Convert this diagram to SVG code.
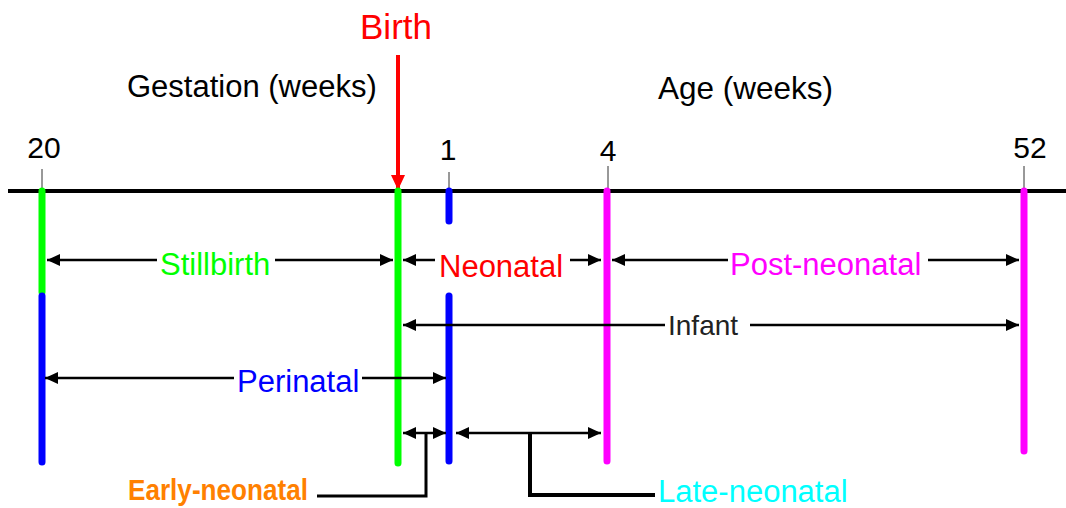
<svg xmlns="http://www.w3.org/2000/svg" width="1066" height="508" viewBox="0 0 1066 508">
<style>
text{font-family:"Liberation Sans",Arial,sans-serif;}
.lbl{font-size:31px;}
.num{font-size:30px;fill:#000;text-anchor:middle;}
.bar{stroke-width:7;stroke-linecap:round;fill:none;}
.tick{stroke:#333;stroke-width:1;}
.dim{stroke:#000;stroke-width:2.5;fill:none;}
.lead{stroke:#000;fill:none;}
</style>
<defs>
<marker id="ah" viewBox="0 0 13 12" refX="13" refY="6" markerWidth="13" markerHeight="12" markerUnits="userSpaceOnUse" orient="auto-start-reverse">
<path d="M0,0 L13,6 L0,12 z" fill="#000"/>
</marker>
<marker id="rh" viewBox="0 0 15 14" refX="15" refY="7" markerWidth="15" markerHeight="14" markerUnits="userSpaceOnUse" orient="auto">
<path d="M0,0 L15,7 L0,14 z" fill="#FF0000"/>
</marker>
</defs>
<rect width="1066" height="508" fill="#fff"/>

<g id="axis">
<line x1="8" y1="191" x2="1066" y2="191" stroke="#000" stroke-width="4"/>
<line class="tick" x1="42" y1="169" x2="42" y2="189"/>
<line class="tick" x1="449" y1="172" x2="449" y2="189"/>
<line class="tick" x1="608" y1="166" x2="608" y2="189"/>
<line class="tick" x1="1024" y1="166" x2="1024" y2="189"/>
<text class="num" x="44" y="158">20</text>
<text class="num" x="448" y="160">1</text>
<text class="num" x="608" y="161">4</text>
<text class="num" x="1030" y="158">52</text>
<text class="lbl" x="127" y="97" fill="#000">Gestation (weeks)</text>
<text x="658" y="99" font-size="31.5" fill="#000">Age (weeks)</text>
</g>

<g id="birth">
<line x1="398" y1="55" x2="398" y2="190" stroke="#FF0000" stroke-width="4" marker-end="url(#rh)"/>
<text x="396" y="39" font-size="35" fill="#FF0000" text-anchor="middle">Birth</text>
</g>

<g id="bars">
<line class="bar" x1="42" y1="191" x2="42" y2="292" stroke="#00FF00"/>
<line class="bar" x1="42" y1="296" x2="42" y2="462" stroke="#0000FF"/>
<line class="bar" x1="398" y1="191" x2="398" y2="463" stroke="#00FF00"/>
<line class="bar" x1="449" y1="191" x2="449" y2="221" stroke="#0000FF"/>
<line class="bar" x1="449" y1="296" x2="449" y2="461" stroke="#0000FF"/>
<line class="bar" x1="607" y1="191" x2="607" y2="461" stroke="#FF00FF"/>
<line class="bar" x1="1024" y1="191" x2="1024" y2="451" stroke="#FF00FF"/>
</g>

<g id="connectors">
<line class="dim" x1="157" y1="260" x2="47" y2="260" marker-end="url(#ah)"/>
<line class="dim" x1="275" y1="260" x2="393" y2="260" marker-end="url(#ah)"/>
<line class="dim" x1="435" y1="260" x2="403" y2="260" marker-end="url(#ah)"/>
<line class="dim" x1="570" y1="260" x2="601" y2="260" marker-end="url(#ah)"/>
<line class="dim" x1="728" y1="260" x2="612" y2="260" marker-end="url(#ah)"/>
<line class="dim" x1="928" y1="260" x2="1019" y2="260" marker-end="url(#ah)"/>
<line class="dim" x1="665" y1="325" x2="403" y2="325" marker-end="url(#ah)"/>
<line class="dim" x1="750" y1="325" x2="1019" y2="325" marker-end="url(#ah)"/>
<line class="dim" x1="234" y1="378" x2="45" y2="378" marker-end="url(#ah)"/>
<line class="dim" x1="362" y1="378" x2="446" y2="378" marker-end="url(#ah)"/>
<line class="dim" x1="403" y1="433" x2="446" y2="433" marker-start="url(#ah)" marker-end="url(#ah)"/>
<line class="dim" x1="456" y1="433" x2="601" y2="433" marker-start="url(#ah)" marker-end="url(#ah)"/>
<polyline class="lead" points="426,434 426,496 317,496" stroke-width="3"/>
<polyline class="lead" points="530,434 530,495 655,495" stroke-width="4"/>
</g>

<g id="stillbirth"><text class="lbl" x="160" y="275" fill="#00FF00">Stillbirth</text></g>
<g id="neonatal"><text class="lbl" x="439" y="277" fill="#FF0000">Neonatal</text></g>
<g id="post-neonatal"><text class="lbl" x="730" y="275" fill="#FF00FF">Post-neonatal</text></g>
<g id="infant"><text x="668" y="335" font-size="28" fill="#222">Infant</text></g>
<g id="perinatal"><text class="lbl" x="237" y="392" fill="#0000FF">Perinatal</text></g>
<g id="early-neonatal"><text x="128" y="500" font-size="29" font-weight="bold" fill="#FF8000" textLength="180" lengthAdjust="spacingAndGlyphs">Early-neonatal</text></g>
<g id="late-neonatal"><text class="lbl" x="658" y="502" fill="#00FFFF">Late-neonatal</text></g>
</svg>
